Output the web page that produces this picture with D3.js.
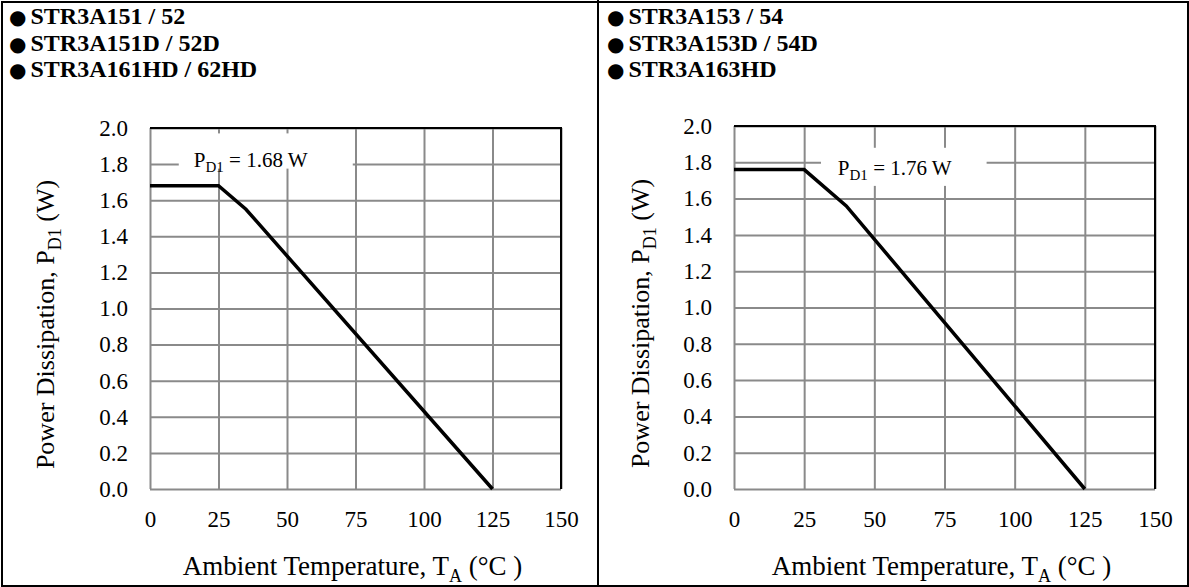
<!DOCTYPE html>
<html>
<head>
<meta charset="utf-8">
<title>Power dissipation derating</title>
<script src="https://cdn.jsdelivr.net/npm/d3@7"></script>
<style>
  body { margin: 0; background: #fff; }
  svg { display: block; }
  svg text { font-family: "Liberation Serif", "DejaVu Serif", serif; }
</style>
</head>
<body>
<script>

    const width = 1189;
    const height = 587;

    // data
    const xTicks = [0, 25, 50, 75, 100, 125, 150];
    const yTicks = [0, 0.2, 0.4, 0.6, 0.8, 1.0, 1.2, 1.4, 1.6, 1.8, 2.0];

    const leftNames = ["STR3A151 / 52", "STR3A151D / 52D", "STR3A161HD / 62HD"];
    const rightNames = ["STR3A153 / 54", "STR3A153D / 54D", "STR3A163HD"];

    const leftTemp = [0, 25, 35, 125];
    const leftPower = [1.68, 1.68, 1.55, 0];
    const rightTemp = [0, 25, 40, 125];
    const rightPower = [1.76, 1.76, 1.56, 0];

    const leftRating = "1.68 W";
    const rightRating = "1.76 W";

    const grey = "#8a8a8a";

    const svg = d3.select("body").append("svg")
        .attr("width", width)
        .attr("height", height);

    // outer frame and divider
    svg.append("rect")
        .attr("x", 2).attr("y", 2)
        .attr("width", width - 3).attr("height", height - 3)
        .attr("fill", "none").attr("stroke", "#000").attr("stroke-width", 2);
    svg.append("line")
        .attr("x1", 598).attr("x2", 598).attr("y1", 0).attr("y2", height)
        .attr("stroke", "#000").attr("stroke-width", 2);

    const panels = [
        { ox: 0, names: leftNames, temp: leftTemp, power: leftPower, rating: leftRating,
          plot: { x: 150, y: 128, w: 411, h: 361 }, yTitle: 96,
          box: [10.5, 1.97, 74, 1.775], label: [16, 1.784] },
        { ox: 598, names: rightNames, temp: rightTemp, power: rightPower, rating: rightRating,
          plot: { x: 136, y: 126, w: 421, h: 363 }, yTitle: 85,
          box: [31, 1.88, 90, 1.67], label: [37, 1.73] }
    ];

    panels.forEach(p => {
        const g = svg.append("g").attr("transform", `translate(${p.ox},0)`);

        // product names
        const names = g.append("g").selectAll("text")
            .data(p.names)
            .enter()
            .append("text")
            .attr("x", 9)
            .attr("y", (d, i) => 24 + i * 26.5)
            .attr("font-weight", "bold")
            .attr("font-size", 24);
        names.append("tspan")
            .attr("font-family", "DejaVu Sans")
            .attr("font-size", 20)
            .text("\u25CF");
        names.append("tspan")
            .attr("dx", 4)
            .text(d => d);

        const x = d3.scaleLinear().domain([0, 150]).range([0, p.plot.w]);
        const y = d3.scaleLinear().domain([0, 2]).range([p.plot.h, 0]);

        const plot = g.append("g").attr("transform", `translate(${p.plot.x},${p.plot.y})`);

        const xAxis = plot.append("g")
            .attr("transform", `translate(0,${p.plot.h})`)
            .call(d3.axisBottom(x).tickValues(xTicks).tickSize(-p.plot.h).tickPadding(22));
        const yAxis = plot.append("g")
            .call(d3.axisLeft(y).tickValues(yTicks).tickFormat(d3.format(".1f")).tickSize(-p.plot.w).tickPadding(22));

        [xAxis, yAxis].forEach(a => {
            a.attr("font-family", null);
            a.select(".domain").remove();
            a.selectAll(".tick line").attr("stroke", grey).attr("stroke-width", 2);
            a.selectAll(".tick text")
                .attr("font-size", 23)
                .attr("fill", "#000");
        });

        // top and right edges of the plot area
        plot.append("path")
            .attr("d", `M0,0H${p.plot.w}V${p.plot.h}`)
            .attr("fill", "none")
            .attr("stroke", "#000")
            .attr("stroke-width", 2);

        // rating label on a white box
        plot.append("rect")
            .attr("x", x(p.box[0]))
            .attr("y", y(p.box[1]))
            .attr("width", x(p.box[2]) - x(p.box[0]))
            .attr("height", y(p.box[3]) - y(p.box[1]))
            .attr("fill", "#fff");
        const lab = plot.append("text")
            .attr("x", x(p.label[0]))
            .attr("y", y(p.label[1]))
            .attr("font-size", 21);
        lab.append("tspan").text("P");
        lab.append("tspan").attr("font-size", 15).attr("dy", 5).text("D1");
        lab.append("tspan").attr("dy", -5).text(" = " + p.rating);

        // derating curve
        const pts = p.temp.map((t, i) => [t, p.power[i]]);
        plot.append("path")
            .datum(pts)
            .attr("fill", "none")
            .attr("stroke", "#000")
            .attr("stroke-width", 3.5)
            .attr("d", d3.line().x(d => x(d[0])).y(d => y(d[1])));

        // axis titles
        const yt = g.append("text")
            .attr("transform", `translate(${p.plot.x - p.yTitle},${p.plot.y + p.plot.h / 2 + 16}) rotate(-90)`)
            .attr("text-anchor", "middle")
            .attr("font-size", 26);
        yt.append("tspan").text("Power Dissipation, P");
        yt.append("tspan").attr("font-size", 18).attr("dy", 7).text("D1");
        yt.append("tspan").attr("dy", -7).text(" (W)");

        const xt = g.append("text")
            .attr("x", p.plot.x + p.plot.w / 2 - 3)
            .attr("y", p.plot.y + p.plot.h + 86)
            .attr("text-anchor", "middle")
            .attr("font-size", 27);
        xt.append("tspan").text("Ambient Temperature, T");
        xt.append("tspan").attr("font-size", 18).attr("dy", 7).text("A");
        xt.append("tspan").attr("dy", -7).text(" (\u00B0C )");
    });

</script>
</body>
</html>
